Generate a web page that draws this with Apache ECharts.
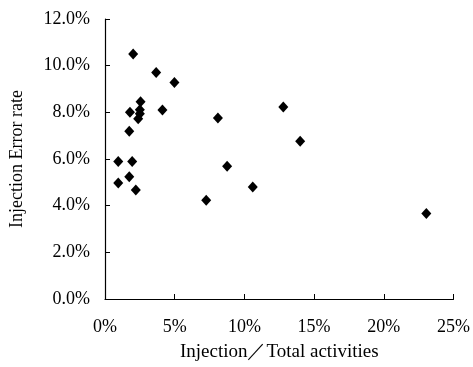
<!DOCTYPE html>
<html>
<head>
<meta charset="utf-8">
<script src="https://cdn.jsdelivr.net/npm/echarts@6/dist/echarts.min.js"></script>
<style>html,body{margin:0;padding:0;background:#fff}#c{width:473px;height:367px}</style>
</head>
<body>
<div id="c"></div>
<script>
var injectionShare = [2.02, 3.67, 4.98, 2.55, 1.79, 4.12, 2.5, 2.5, 2.38, 1.74, 0.95, 1.95, 0.95, 1.74, 2.21, 7.26, 8.1, 8.76, 12.79, 14.0, 10.6, 23.05];
var errorRate = [10.5, 9.71, 9.28, 8.45, 8.0, 8.1, 8.11, 7.94, 7.72, 7.19, 5.89, 5.89, 4.97, 5.24, 4.67, 4.23, 7.76, 5.69, 8.23, 6.76, 4.8, 3.66];
var xTitle = 'Injection／Total activities';
var yTitle = 'Injection Error rate';

var pts = injectionShare.map(function (v, i) { return [v, errorRate[i]]; });
var font = '"Liberation Serif","Times New Roman",serif';
var chart = echarts.init(document.getElementById('c'), null, {renderer: 'canvas'});
chart.setOption({
  backgroundColor: '#fff',
  animation: false,
  grid: {left: 105, right: 18, top: 19, bottom: 67},
  xAxis: {
    type: 'value', min: 0, max: 25, interval: 5,
    name: xTitle, nameLocation: 'middle', nameGap: 44,
    nameTextStyle: {fontFamily: font, fontSize: 19, color: '#000'},
    axisLine: {show: true, lineStyle: {color: '#000', width: 1.2}},
    axisTick: {show: true, inside: true, length: 5, lineStyle: {color: '#000'}},
    axisLabel: {fontFamily: font, fontSize: 18, color: '#000', margin: 19, formatter: function (v) { return v + '%'; }},
    splitLine: {show: false}
  },
  yAxis: {
    type: 'value', min: 0, max: 12, interval: 2,
    name: yTitle, nameLocation: 'middle', nameGap: 79,
    nameTextStyle: {fontFamily: font, fontSize: 18, color: '#000'},
    axisLine: {show: true, lineStyle: {color: '#000', width: 1.2}},
    axisTick: {show: true, inside: true, length: 5, lineStyle: {color: '#000'}},
    axisLabel: {fontFamily: font, fontSize: 18, color: '#000', margin: 15, formatter: function (v) { return v.toFixed(1) + '%'; }},
    splitLine: {show: false}
  },
  series: [{
    type: 'scatter',
    data: pts,
    symbol: 'diamond',
    symbolSize: [10, 11],
    itemStyle: {color: '#000', opacity: 1}
  }]
});
</script>
</body>
</html>
